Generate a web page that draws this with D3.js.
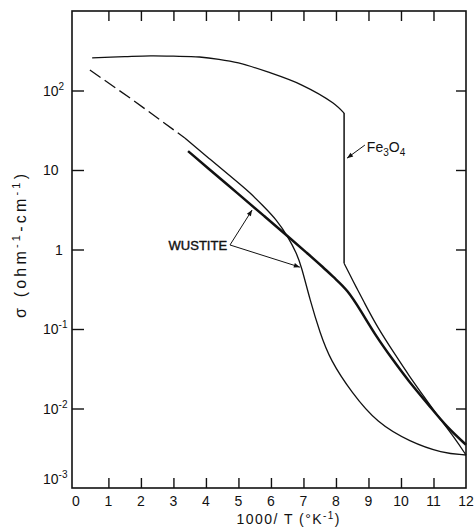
<!DOCTYPE html>
<html>
<head>
<meta charset="utf-8">
<script src="https://cdn.jsdelivr.net/npm/d3@7"></script>
<style>
  body { margin: 0; background: #fff; }
  text { font-family: "Liberation Sans", Arial, sans-serif; fill: #111; }
</style>
</head>
<body>
<div id="vis"></div>
<script>
// x is 1000/T, y is sigma (ohm^-1 cm^-1)
let xLabels = [0, 1, 2, 3, 4, 5, 6, 7, 8, 9, 10, 11, 12];
let xInnerTicks = [1, 2, 3, 4, 5, 6, 7, 8, 9, 10, 11];
let yExponents = [2, 1, 0, -1, -2, -3];
let yInnerTicks = [1e2, 1e1, 1, 1e-1, 1e-2];

// Fe3O4, above and below the jump at the Verwey transition
let fe3o4HighX = [0.5, 1.5, 2.3, 3.0, 3.8, 4.4, 5.0, 5.9, 6.95, 7.9, 8.25];
let fe3o4HighY = [257, 266, 272, 270, 264, 247, 222, 171, 117, 70, 52];
let fe3o4LowX = [8.25, 8.43, 8.65, 8.83, 9.26, 9.88, 10.22, 10.74, 11.2, 11.66, 12];
let fe3o4LowY = [0.67, 0.48, 0.32, 0.232, 0.107, 0.0437, 0.0269, 0.0135, 0.0074, 0.0042, 0.0026];

// wustite, thin curve (dashed at high temperature)
let wustDashX = [0.43, 1.75, 3.35];
let wustDashY = [181, 76, 25.3];
let wustThinX = [3.35, 4.12, 4.89, 5.35, 5.75, 6.18, 6.52, 6.79, 6.94, 7.2, 7.51, 7.82, 8.49, 9.26, 10.28, 11.26, 12];
let wustThinY = [25.3, 13.7, 7.49, 5.21, 3.57, 2.35, 1.45, 0.895, 0.608, 0.232, 0.089, 0.041, 0.0157, 0.0066, 0.0038, 0.00275, 0.0026];

// wustite, thick curve
let wustThickX = [3.45, 4.0, 5.0, 5.8, 6.6, 7.1, 7.6, 8.0, 8.35, 8.75, 9.25, 9.75, 10.2, 10.9, 11.4, 12];
let wustThickY = [17.3, 11.1, 4.98, 2.62, 1.37, 0.91, 0.60, 0.42, 0.31, 0.174, 0.079, 0.041, 0.023, 0.0105, 0.0059, 0.0035];

// annotation anchors, in data units
let wustLabel = [4.65, 1.0];
let wustVertex = [4.74, 1.14];
let wustTipThick = [5.42, 3.14];
let wustTipThin = [6.89, 0.60];
let feLabel = [8.95, 16.8];
let feArrowFrom = [8.89, 20.6];
let feArrowTip = [8.34, 14.1];

let width = 475,
    height = 531;

let svg = d3.select('#vis')
  .append('svg')
    .attr('width', width)
    .attr('height', height)
    .style('background-color', '#fff');

let xScale = d3.scaleLinear()
  .domain([-0.12, 12])
  .range([72, 466]);

let yScale = d3.scaleLog()
  .domain([1e-3, 1e3])
  .range([488, 11]);

let x0 = xScale.range()[0], x1 = xScale.range()[1];
let y0 = yScale.range()[0], y1 = yScale.range()[1];

// arrow head
svg.append('defs').append('marker')
    .attr('id', 'arrow')
    .attr('viewBox', '0 0 10 10')
    .attr('refX', 10)
    .attr('refY', 5)
    .attr('markerUnits', 'userSpaceOnUse')
    .attr('markerWidth', 7)
    .attr('markerHeight', 6)
    .attr('orient', 'auto')
  .append('path')
    .attr('d', 'M0,1L10,5L0,9Z')
    .attr('fill', '#111');

// frame
svg.append('rect')
  .attr('x', x0)
  .attr('y', y1)
  .attr('width', x1 - x0)
  .attr('height', y0 - y1)
  .attr('fill', 'none')
  .attr('stroke', '#111')
  .attr('stroke-width', 1.6);

// inward tick marks on all four sides
function noDomain(g) {
  g.select('.domain').remove();
  g.selectAll('line').attr('stroke', '#111').attr('stroke-width', 1.4);
}
svg.append('g')
  .attr('transform', 'translate(0,' + y0 + ')')
  .call(d3.axisBottom(xScale).tickValues(xInnerTicks).tickSize(-10).tickFormat(''))
  .call(noDomain);
svg.append('g')
  .attr('transform', 'translate(0,' + y1 + ')')
  .call(d3.axisTop(xScale).tickValues(xInnerTicks).tickSize(-10).tickFormat(''))
  .call(noDomain);
svg.append('g')
  .attr('transform', 'translate(' + x0 + ',0)')
  .call(d3.axisLeft(yScale).tickValues(yInnerTicks).tickSize(-12).tickFormat(''))
  .call(noDomain);
svg.append('g')
  .attr('transform', 'translate(' + x1 + ',0)')
  .call(d3.axisRight(yScale).tickValues(yInnerTicks).tickSize(-10).tickFormat(''))
  .call(noDomain);

// x tick labels
svg.append('g').selectAll('text')
  .data(xLabels)
  .join('text')
    .attr('x', d => xScale(d))
    .attr('y', y0 + 18)
    .attr('text-anchor', 'middle')
    .style('font-size', '14px')
    .text(d => d);

// y tick labels, powers of ten
let yLab = svg.append('g').selectAll('text')
  .data(yExponents)
  .join('text')
    .attr('x', d => d === 0 ? 55 : 43)
    .attr('y', d => yScale(Math.pow(10, d)) + (d === -3 ? -4 : 5))
    .style('font-size', '14px');
yLab.append('tspan').text(d => d === 0 ? '1' : '10');
yLab.filter(d => d !== 0 && d !== 1)
  .append('tspan')
    .attr('dy', -6)
    .style('font-size', '10px')
    .text(d => d < 0 ? '-' + (-d) : d);

// axis titles
let xTitle = svg.append('text')
  .attr('x', 288)
  .attr('y', y0 + 36)
  .attr('text-anchor', 'middle')
  .style('font-size', '14px')
  .attr('textLength', 103)
  .attr('lengthAdjust', 'spacing');
xTitle.append('tspan').text('1000/ T  (°K');
xTitle.append('tspan').attr('dy', -5).style('font-size', '10px').text('-1');
xTitle.append('tspan').attr('dy', 5).text(')');

let yTitle = svg.append('text')
  .attr('transform', 'translate(26,246) rotate(-90)')
  .attr('text-anchor', 'middle')
  .style('font-size', '16px')
  .attr('textLength', 144)
  .attr('lengthAdjust', 'spacing');
yTitle.append('tspan').text('σ  (ohm');
yTitle.append('tspan').attr('dy', -6).style('font-size', '11px').text('-1');
yTitle.append('tspan').attr('dy', 6).text('-cm');
yTitle.append('tspan').attr('dy', -6).style('font-size', '11px').text('-1');
yTitle.append('tspan').attr('dy', 6).text(')');

// curves: catmull-rom for the rounded Fe3O4 top, b-spline for the rest
let rounded = d3.line()
  .x(d => xScale(d[0]))
  .y(d => yScale(d[1]))
  .curve(d3.curveCatmullRom.alpha(0.5));
let smooth = d3.line()
  .x(d => xScale(d[0]))
  .y(d => yScale(d[1]))
  .curve(d3.curveBasis);
let straight = d3.line()
  .x(d => xScale(d[0]))
  .y(d => yScale(d[1]));

function drawCurve(pts, gen, w, dash) {
  return svg.append('path')
    .attr('d', gen(pts))
    .attr('fill', 'none')
    .attr('stroke', '#111')
    .attr('stroke-width', w)
    .attr('stroke-linejoin', 'round')
    .attr('stroke-dasharray', dash || null);
}

let feHigh = d3.zip(fe3o4HighX, fe3o4HighY);
let feLow = d3.zip(fe3o4LowX, fe3o4LowY);
drawCurve(feHigh, rounded, 1.3);
drawCurve([feHigh[feHigh.length - 1], feLow[0]], straight, 1.5);
drawCurve(feLow, smooth, 1.3);

drawCurve(d3.zip(wustDashX, wustDashY), straight, 1.3, '13,5');
drawCurve(d3.zip(wustThinX, wustThinY), smooth, 1.3);
drawCurve(d3.zip(wustThickX, wustThickY), smooth, 2.5);

// annotations
svg.append('text')
  .attr('x', xScale(wustLabel[0]))
  .attr('y', yScale(wustLabel[1]))
  .attr('text-anchor', 'end')
  .style('font-size', '13px')
  .style('stroke', '#111')
  .style('stroke-width', 0.4)
  .text('WUSTITE');

[wustTipThick, wustTipThin].forEach(function(tip) {
  svg.append('path')
    .attr('d', straight([wustVertex, tip]))
    .attr('fill', 'none')
    .attr('stroke', '#111')
    .attr('stroke-width', 1)
    .attr('marker-end', 'url(#arrow)');
});

let feText = svg.append('text')
  .attr('x', xScale(feLabel[0]))
  .attr('y', yScale(feLabel[1]))
  .style('font-size', '14px');
feText.append('tspan').text('Fe');
feText.append('tspan').attr('dy', 4).style('font-size', '10px').text('3');
feText.append('tspan').attr('dy', -4).text('O');
feText.append('tspan').attr('dy', 4).style('font-size', '10px').text('4');

svg.append('path')
  .attr('d', straight([feArrowFrom, feArrowTip]))
  .attr('fill', 'none')
  .attr('stroke', '#111')
  .attr('stroke-width', 1)
  .attr('marker-end', 'url(#arrow)');
</script>
</body>
</html>
